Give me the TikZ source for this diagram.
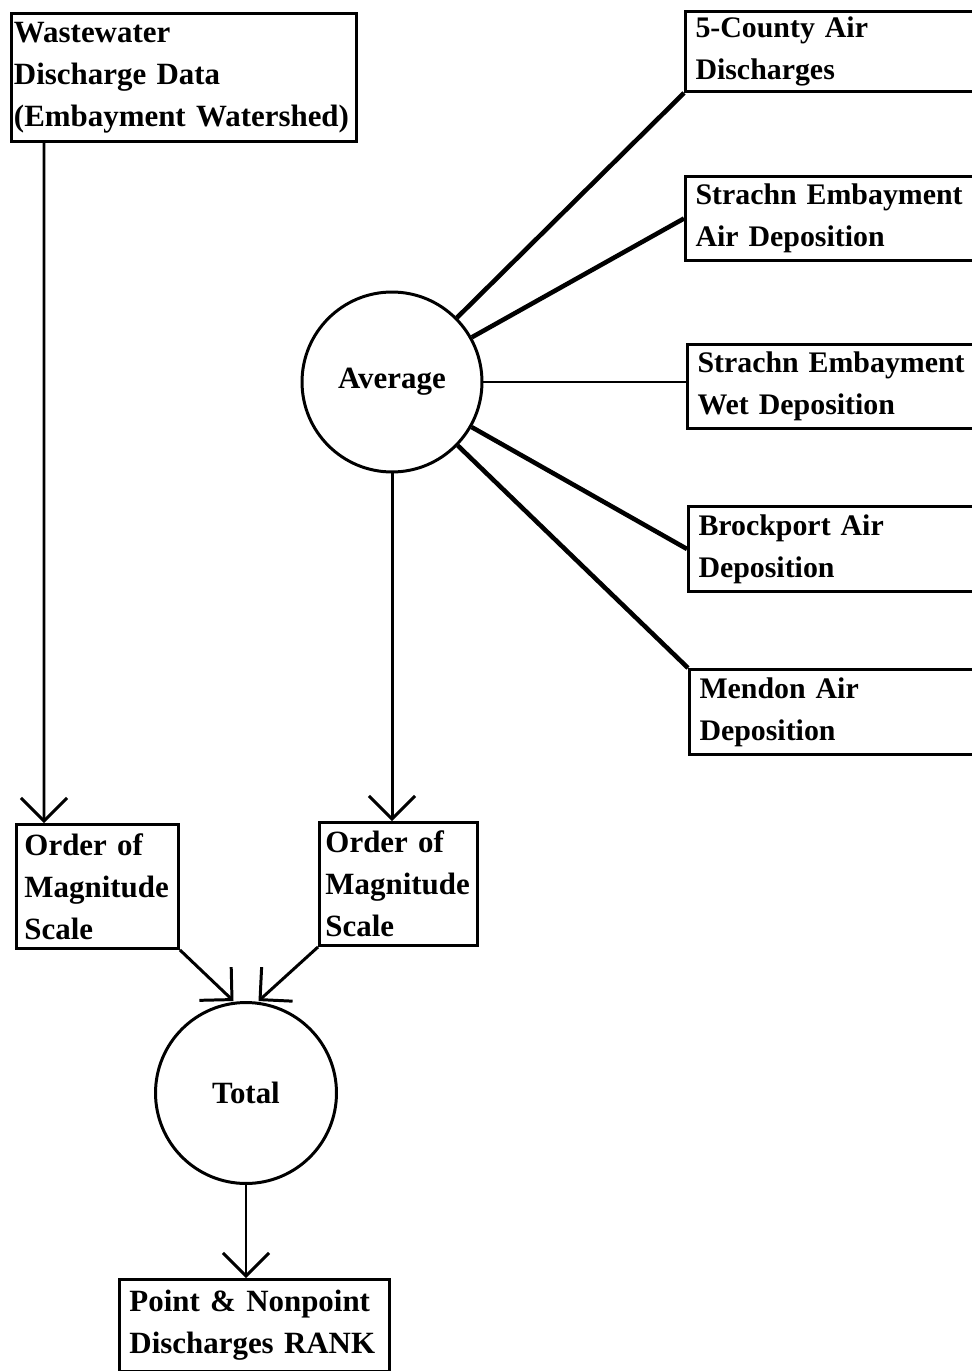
\documentclass[tikz,border=0pt]{standalone}
\usepackage{fontspec}
\setmainfont[WordSpace=0.8]{Liberation Serif}
\usetikzlibrary{arrows.meta}

\begin{document}
\begin{tikzpicture}[x=0.02cm, y=-0.02cm,
  font=\bfseries\fontsize{17.6}{23.9}\selectfont,
  box/.style={draw, line width=1.7pt, anchor=north west, align=left, inner ysep=0pt},
  src/.style={box, text width=6.2cm, inner xsep=0.2cm,
    font=\bfseries\fontsize{17}{23.9}\selectfont},
  ring/.style={draw, circle, line width=1.7pt, inner sep=0pt},
  spoke/.style={line width=2.6pt},
  arr/.style={line width=1.7pt, -{Straight Barb[length=0.46cm, width=0.92cm]}}]
  \useasboundingbox (0,0) rectangle (971,1371);

  % sources
  \node[box, text width=6.8cm, inner xsep=0.05cm, minimum height=2.56cm] (ww) at (10,12)
    {Wastewater\\ Discharge Data\\ (Embayment Watershed)};
  \node[src, minimum height=1.6cm] (county) at (684,10) {5-County Air\\ Discharges};
  \node[src, minimum height=1.68cm] (strair) at (684,175) {Strachn Embayment\\ Air Deposition};
  \node[src, minimum height=1.68cm] (strwet) at (686,343) {Strachn Embayment\\ Wet Deposition};
  \node[src, minimum height=1.7cm] (brock) at (687,505) {Brockport Air\\ Deposition};
  \node[src, minimum height=1.7cm] (mendon) at (688,668) {Mendon Air\\ Deposition};

  \node[ring, minimum size=3.6cm] (avg) at (392,382) {Average};

  % scales
  \node[box, text width=2.92cm, inner xsep=0.16cm, minimum height=2.48cm] (ordl) at (15,823)
    {Order of\\ Magnitude\\ Scale};
  \node[box, text width=2.92cm, inner xsep=0.12cm, minimum height=2.46cm] (ordr) at (318,821)
    {Order of\\ Magnitude\\ Scale};

  \node[ring, minimum size=3.62cm] (tot) at (246,1093) {Total};

  \node[box, text width=5cm, inner xsep=0.2cm, minimum height=1.84cm] (pt) at (118,1278)
    {Point \& Nonpoint\\ Discharges RANK};

  \draw[spoke] (avg) -- (county.south west);
  \draw[spoke] (avg) -- (strair.west);
  \draw[line width=1.2pt] (avg) -- (avg -| strwet.west);
  \draw[spoke] (avg) -- (brock.west);
  \draw[spoke] (avg) -- (mendon.north west);

  \draw[arr] ([xshift=0.68cm]ww.south west) -- ([xshift=0.58cm]ordl.north west);
  \draw[arr] (avg) -- (avg |- ordr.north);
  \draw[arr] (ordl.south east) -- ([xshift=-0.25cm]tot.north);
  \draw[arr] (ordr.south west) -- ([xshift=0.25cm]tot.north);
  \draw[arr] (tot) -- (tot |- pt.north);
\end{tikzpicture}
\end{document}
